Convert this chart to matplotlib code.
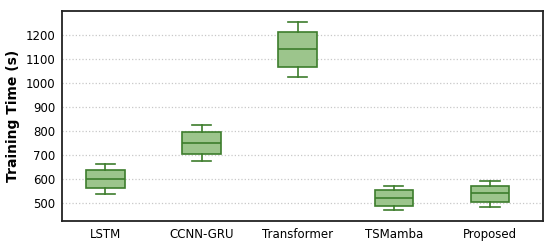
import matplotlib
matplotlib.use('Agg')
import matplotlib.pyplot as plt

# Box statistics
models = ['LSTM', 'CCNN-GRU', 'Transformer', 'TSMamba', 'Proposed']
whislo = [540, 676, 1026, 470, 485]
q1 = [564, 703, 1068, 489, 506]
med = [601, 751, 1140, 521, 542]
q3 = [637, 797, 1211, 553, 573]
whishi = [661, 825, 1253, 572, 594]
yticks = [500, 600, 700, 800, 900, 1000, 1100, 1200]

stats = []
for i in range(len(models)):
    stats.append({'label': models[i], 'whislo': whislo[i], 'q1': q1[i],
                  'med': med[i], 'q3': q3[i], 'whishi': whishi[i], 'fliers': []})

edge = '#3d7d2c'
fig, ax = plt.subplots(figsize=(5.5, 2.43), dpi=100)
ax.bxp(stats, positions=range(1, 6), widths=0.4, patch_artist=True, showfliers=False,
       boxprops=dict(facecolor='#9cc58c', edgecolor=edge, linewidth=1.2),
       medianprops=dict(color=edge, linewidth=1.2),
       whiskerprops=dict(color=edge, linewidth=1.2),
       capprops=dict(color=edge, linewidth=1.2))

ax.set_xlim(0.55, 5.55)
ax.set_ylim(425, 1300)
ax.set_yticks(yticks)
ax.yaxis.grid(True, linestyle=':', color='#c8c8c8', linewidth=0.9)
ax.set_axisbelow(True)
ax.set_ylabel('Training Time (s)', fontsize=10, fontweight='bold')
ax.tick_params(axis='both', labelsize=8.5, length=0, pad=5)
for s in ax.spines.values():
    s.set_linewidth(1.3)
    s.set_color('#222222')

plt.subplots_adjust(left=0.113, right=0.987, top=0.955, bottom=0.09)
plt.savefig('out.png', dpi=100)
plt.close()
